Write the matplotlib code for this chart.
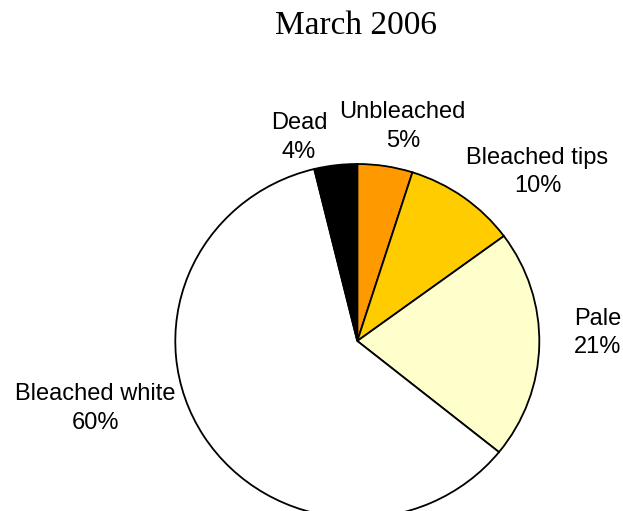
import matplotlib.pyplot as plt

# slices, clockwise from 12 o'clock
categories = ['Unbleached', 'Bleached tips', 'Pale', 'Bleached white', 'Dead']
values = [4.9, 10.0, 20.9, 60.4, 3.8]
pct_labels = ['5%', '10%', '21%', '60%', '4%']
colors = ['#FF9900', '#FFCC00', '#FFFFCC', '#FFFFFF', '#000000']

# label centres in pie-radius units (x, y)
label_pos = [(0.25, 1.21), (0.99, 0.955), (1.32, 0.045), (-1.44, -0.38), (-0.32, 1.15)]

W, H = 623, 511
cx, cy = 357.3, 511 - 341
rx, ry = 182, 177

fig = plt.figure(figsize=(W / 100, H / 100), dpi=100)
ax = fig.add_axes([(cx - rx) / W, (cy - ry) / H, 2 * rx / W, 2 * ry / H])

wedges, texts = ax.pie(values, colors=colors, startangle=90, counterclock=False,
                       labels=[f'{c}\n{p}' for c, p in zip(categories, pct_labels)],
                       wedgeprops={'edgecolor': 'black', 'linewidth': 1.3},
                       textprops={'family': 'Liberation Sans', 'fontsize': 17,
                                  'ha': 'center', 'va': 'center', 'linespacing': 1.4})
for t, (x, y) in zip(texts, label_pos):
    t.set_position((x, y))
    t.set_ha('center')
    t.set_va('center')
    t.set_clip_on(False)
for w in wedges:
    w.set_clip_on(False)

ax.set_aspect('auto')
ax.set_xlim(-1, 1)
ax.set_ylim(-1, 1)
ax.axis('off')

fig.text(356 / W, 1 - 26 / H, 'March 2006', family='Liberation Serif', fontsize=24,
         ha='center', va='center')

fig.savefig('out.png', dpi=100)
